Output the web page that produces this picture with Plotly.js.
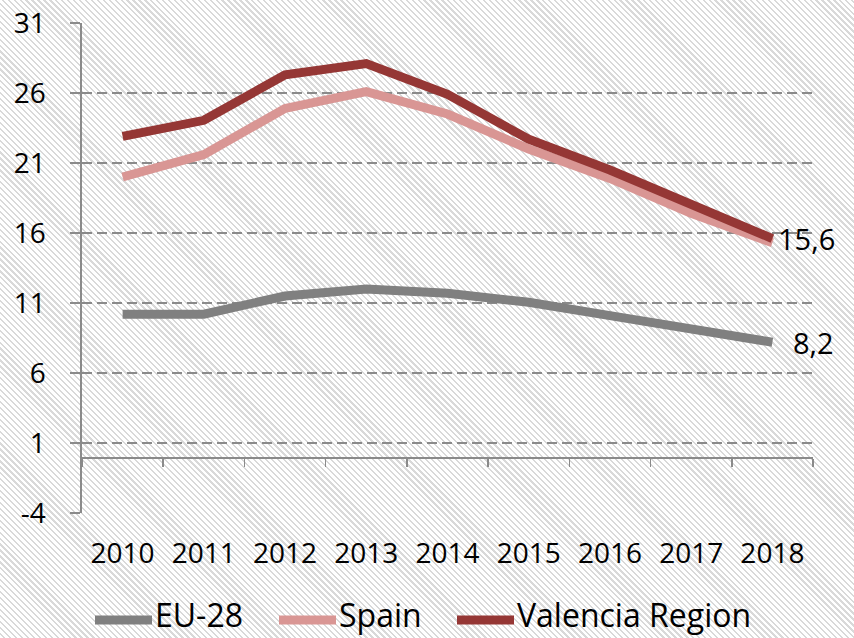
<!DOCTYPE html>
<html>
<head>
<meta charset="utf-8">
<script src="https://cdn.plot.ly/plotly-3.0.1.min.js"></script>
<style>
  html, body { margin: 0; padding: 0; }
  body {
    width: 854px; height: 638px; overflow: hidden;
    background: repeating-linear-gradient(45deg, #ffffff 0px, #ffffff 2.6px, #d9d9d9 2.6px, #d9d9d9 4.2px);
  }
  #chart { width: 854px; height: 638px; }
</style>
</head>
<body>
<div id="chart"></div>
<script>
const years = ["2010","2011","2012","2013","2014","2015","2016","2017","2018"];
const eu28 = [10.2, 10.2, 11.5, 12.0, 11.7, 11.05, 10.1, 9.2, 8.2];
const spain = [20.0, 21.6, 24.9, 26.1, 24.5, 22.0, 19.9, 17.4, 15.3];
const valencia = [22.9, 24.05, 27.3, 28.1, 25.9, 22.7, 20.5, 18.1, 15.6];
const seriesNames = ["EU-28", "Spain", "Valencia Region"];
const seriesColors = ["#808080", "#d99694", "#953735"];
const yTickVals = [-4, 1, 6, 11, 16, 21, 26, 31];
const yTickText = ["-4", "1", "6", "11", "16", "21", "26", "31"];

const FONT = "Open Sans, sans-serif";
const allSeries = [eu28, spain, valencia];

const W = 854, H = 638;
const M = { l: 82, r: 41, t: 23, b: 125 };
const plotW = W - M.l - M.r, plotH = H - M.t - M.b;
const px2paperX = p => (p - M.l) / plotW;
const px2paperY = p => (H - M.b - p) / plotH;

const traces = allSeries.map((vals, i) => ({
  type: "scatter",
  mode: "lines",
  x: years,
  y: vals,
  name: seriesNames[i],
  line: { color: seriesColors[i], width: 9 },
  showlegend: false,
  hoverinfo: "skip"
}));

// invisible trace so the crossing axis at y=0 is drawn
traces.push({
  type: "scatter", mode: "lines", x: [-0.5, 8.5], y: [0, 0],
  xaxis: "x2", yaxis: "y", showlegend: false,
  line: { color: "rgba(0,0,0,0)", width: 0 }, hoverinfo: "skip"
});

const fmt = v => v.toFixed(1).replace(".", ",");
const last = years.length - 1;
const annotations = [
  { x: last, y: valencia[last], text: fmt(valencia[last]), xshift: 4 },
  { x: last, y: eu28[last], text: fmt(eu28[last]), xshift: 19 }
].map(a => Object.assign({
  xref: "x", yref: "y", showarrow: false, xanchor: "left", yanchor: "middle",
  font: { family: FONT, size: 29, color: "#000" }
}, a));

// legend (drawn as shapes + text below the plot)
const legendSampleX = [95, 279, 457];
const legendSampleLen = 57;
const legendY = 620;
const shapes = [];
seriesNames.forEach((name, i) => {
  shapes.push({
    type: "line", xref: "paper", yref: "paper",
    x0: px2paperX(legendSampleX[i]), x1: px2paperX(legendSampleX[i] + legendSampleLen),
    y0: px2paperY(legendY), y1: px2paperY(legendY),
    line: { color: seriesColors[i], width: 9 }
  });
  annotations.push({
    xref: "paper", yref: "paper", showarrow: false,
    x: px2paperX(legendSampleX[i] + legendSampleLen + 2), y: px2paperY(637),
    xanchor: "left", yanchor: "bottom", text: name, borderpad: 0,
    font: { family: FONT, size: 32, color: "#000" }
  });
});

const layout = {
  width: W, height: H,
  margin: M,
  paper_bgcolor: "rgba(0,0,0,0)",
  plot_bgcolor: "rgba(0,0,0,0)",
  font: { family: FONT, size: 28, color: "#000" },
  showlegend: false,
  xaxis: {
    type: "category", range: [-0.5, 8.5],
    showgrid: false, showline: false, zeroline: false,
    ticks: "outside", ticklen: 15, tickcolor: "rgba(0,0,0,0)",
    tickfont: { family: FONT, size: 28, color: "#000" }
  },
  xaxis2: {
    overlaying: "x", anchor: "free", position: 4 / 35,
    range: [-0.5, 8.5], tick0: -0.5, dtick: 1,
    showgrid: false, zeroline: false, showticklabels: false,
    showline: true, linecolor: "#8a8a8a", linewidth: 1.6,
    ticks: "outside", ticklen: 8, tickwidth: 1.6, tickcolor: "#8a8a8a"
  },
  yaxis: {
    range: [-4, 31], tickmode: "array", tickvals: yTickVals, ticktext: yTickText,
    showline: true, linecolor: "#8a8a8a", linewidth: 1.6,
    ticks: "outside", ticklen: 10, tickwidth: 1.6, tickcolor: "#8a8a8a",
    showgrid: true, gridcolor: "#8a8a8a", gridwidth: 1.8, griddash: "10px,5px",
    zeroline: false, ticklabelstandoff: 19,
    tickfont: { family: FONT, size: 28, color: "#000" }
  },
  shapes: shapes,
  annotations: annotations
};

Plotly.newPlot("chart", traces, layout, { staticPlot: true, displayModeBar: false });
</script>
</body>
</html>
